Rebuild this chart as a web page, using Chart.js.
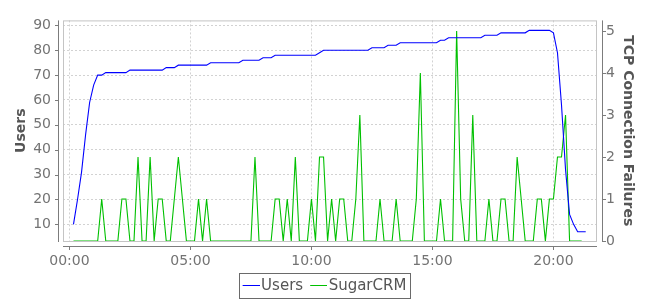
<!DOCTYPE html>
<html>
<head>
<meta charset="utf-8">
<script src="https://cdn.jsdelivr.net/npm/chart.js@4/dist/chart.umd.min.js"></script>
<style>
html,body{margin:0;padding:0;background:#ffffff;}
#wrap{width:650px;height:300px;position:relative;}
</style>
</head>
<body>
<div id="wrap"><canvas id="c" width="650" height="300"></canvas></div>
<script>
// ---- data ----
const sampleTimes = [
  '00:10','00:20','00:30','00:40','00:50',
  '01:00','01:10','01:20','01:30','01:40','01:50',
  '02:00','02:10','02:20','02:30','02:40','02:50',
  '03:00','03:10','03:20','03:30','03:40','03:50',
  '04:00','04:10','04:20','04:30','04:40','04:50',
  '05:00','05:10','05:20','05:30','05:40','05:50',
  '06:00','06:10','06:20','06:30','06:40','06:50',
  '07:00','07:10','07:20','07:30','07:40','07:50',
  '08:00','08:10','08:20','08:30','08:40','08:50',
  '09:00','09:10','09:20','09:30','09:40','09:50',
  '10:00','10:10','10:20','10:30','10:40','10:50',
  '11:00','11:10','11:20','11:30','11:40','11:50',
  '12:00','12:10','12:20','12:30','12:40','12:50',
  '13:00','13:10','13:20','13:30','13:40','13:50',
  '14:00','14:10','14:20','14:30','14:40','14:50',
  '15:00','15:10','15:20','15:30','15:40','15:50',
  '16:00','16:10','16:20','16:30','16:40','16:50',
  '17:00','17:10','17:20','17:30','17:40','17:50',
  '18:00','18:10','18:20','18:30','18:40','18:50',
  '19:00','19:10','19:20','19:30','19:40','19:50',
  '20:00','20:10','20:20','20:30','20:40','20:50',
  '21:00','21:10','21:20'
];

const users = [
  10,20,31,46,59,66,70,70,71,71,
  71,71,71,71,72,72,72,72,72,72,
  72,72,72,73,73,73,74,74,74,74,
  74,74,74,74,75,75,75,75,75,75,
  75,75,76,76,76,76,76,77,77,77,
  78,78,78,78,78,78,78,78,78,78,
  78,79,80,80,80,80,80,80,80,80,
  80,80,80,80,81,81,81,81,82,82,
  82,83,83,83,83,83,83,83,83,83,
  83,84,84,85,85,85,85,85,85,85,
  85,85,86,86,86,86,87,87,87,87,
  87,87,87,88,88,88,88,88,88,87,
  79,58,32,14,10,7,7,7
];

const sugarCRM = [
  0,0,0,0,0,0,0,1,0,0,
  0,0,1,1,0,0,2,0,0,2,
  0,1,1,0,0,1,2,1,0,0,
  0,1,0,1,0,0,0,0,0,0,
  0,0,0,0,0,2,0,0,0,0,
  1,1,0,1,0,2,0,0,0,1,
  0,2,2,0,1,0,1,1,0,0,
  1,3,0,0,0,0,1,0,0,0,
  1,0,0,0,0,1,4,0,0,0,
  0,1,0,0,0,5,1,0,0,3,
  0,0,0,1,0,0,1,1,0,0,
  2,1,0,0,0,1,1,0,1,1,
  2,2,3,0,0,0,0
];

const timeTicks = ['00:00','05:00','10:00','15:00','20:00'];
const usersTicks = [10,20,30,40,50,60,70,80,90];
const failureTicks = [0,1,2,3,4,5];

// ---- helpers ----
function toMinutes(s){ const p = s.split(':'); return (+p[0]) * 60 + (+p[1]); }
function toLabel(m){ const h = Math.floor(m / 60), mm = m % 60; return String(h).padStart(2,'0') + ':' + String(mm).padStart(2,'0'); }
function legendLine(color){
  const cv = document.createElement('canvas');
  cv.width = 22; cv.height = 3;
  const g = cv.getContext('2d');
  g.fillStyle = color;
  g.fillRect(5, 0, 17, 1);
  return cv;
}

const FONT = "'DejaVu Sans', sans-serif";
const tickColor = '#737373';
const titleColor = '#555555';
const gridColor = '#d2d2d2';

const frameAndAxes = {
  id: 'frameAndAxes',
  afterLayout(chart){
    const lg = chart.legend;
    if (lg) { lg.top += 4; lg.bottom += 4; }
  },
  beforeDatasetsDraw(chart){
    const {ctx, chartArea: a, scales} = chart;
    ctx.save();
    ctx.strokeStyle = '#c4c4c4';
    ctx.lineWidth = 1;
    ctx.strokeRect(a.left + 0.5, a.top + 0.5, a.right - a.left - 1, a.bottom - a.top);
    ctx.fillStyle = '#7c7c7c';
    const lx = a.left - 5;
    ctx.fillRect(lx, a.top, 1, a.bottom - a.top + 1);
    scales.y.ticks.forEach(t => {
      const y = Math.round(scales.y.getPixelForValue(t.value));
      ctx.fillRect(lx - 3, y, 3, 1);
    });
    const rx = a.right + 5;
    ctx.fillRect(rx, a.top, 1, a.bottom - a.top + 1);
    scales.y1.ticks.forEach(t => {
      const y = Math.min(Math.round(scales.y1.getPixelForValue(t.value)), a.bottom);
      ctx.fillRect(rx + 1, y, 3, 1);
    });
    const by = a.bottom + 5;
    ctx.fillRect(a.left, by, a.right - a.left, 1);
    scales.x.ticks.forEach(t => {
      const x = Math.round(scales.x.getPixelForValue(t.value));
      ctx.fillRect(x, by + 1, 1, 3);
    });
    ctx.restore();
  },
  afterDraw(chart){
    const lg = chart.legend;
    if (!lg || !lg.lineWidths) return;
    const {ctx} = chart;
    const pad = lg.options.labels.padding;
    const startX = (lg.left + pad + lg.right - lg.lineWidths[0]) / 2;
    const endX = startX + lg.lineWidths[0] - pad;
    const itemTop = lg.top + pad;
    ctx.save();
    ctx.strokeStyle = '#6a6a6a';
    ctx.lineWidth = 1;
    const x0 = Math.round(startX - 4.2), x1 = Math.round(endX + 3.4);
    const y0 = Math.round(itemTop - 5.7);
    ctx.strokeRect(x0 + 0.5, y0 + 0.5, x1 - x0, 25);
    ctx.restore();
  }
};

new Chart(document.getElementById('c'), {
  type: 'line',
  data: {
    datasets: [
      {
        label: 'Users',
        data: users.map((v, i) => ({x: toMinutes(sampleTimes[i]), y: v})),
        yAxisID: 'y',
        borderColor: '#0000ff',
        backgroundColor: '#0000ff',
        borderWidth: 1.1,
        pointRadius: 0,
        pointStyle: legendLine('#0000ff'),
        tension: 0,
        fill: false
      },
      {
        label: 'SugarCRM',
        data: sugarCRM.map((v, i) => ({x: toMinutes(sampleTimes[i]), y: v})),
        yAxisID: 'y1',
        borderColor: '#00c000',
        backgroundColor: '#00c000',
        borderWidth: 1.1,
        pointRadius: 0,
        pointStyle: legendLine('#00c000'),
        tension: 0,
        fill: false
      }
    ]
  },
  options: {
    responsive: false,
    animation: false,
    devicePixelRatio: 1,
    layout: { padding: { top: 9, left: 0, right: 0, bottom: 0 } },
    plugins: {
      legend: {
        position: 'bottom',
        labels: {
          usePointStyle: true,
          pointStyleWidth: 10,
          padding: 8,
          color: '#555555',
          font: { family: FONT, size: 15 }
        }
      },
      tooltip: { enabled: false }
    },
    scales: {
      x: {
        type: 'linear',
        min: -16,
        max: 1308,
        afterBuildTicks: s => { s.ticks = timeTicks.map(t => ({value: toMinutes(t)})); },
        afterFit: s => { s.height = 26; },
        grid: { color: gridColor, drawTicks: false, lineWidth: 1 },
        border: { display: false, dash: [2, 2] },
        ticks: {
          padding: 11.6,
          autoSkip: false,
          maxRotation: 0,
          includeBounds: false,
          color: tickColor,
          font: { family: FONT, size: 14 },
          callback: v => toLabel(v)
        }
      },
      y: {
        type: 'linear',
        position: 'left',
        min: 3.3,
        max: 92,
        afterBuildTicks: s => { s.ticks = usersTicks.map(v => ({value: v})); },
        afterFit: s => { s.width = 63; },
        grid: { color: gridColor, drawTicks: false, lineWidth: 1 },
        border: { display: false, dash: [2, 2] },
        ticks: {
          padding: 12,
          autoSkip: false,
          includeBounds: false,
          color: tickColor,
          font: { family: FONT, size: 14 }
        },
        title: {
          display: true,
          text: 'Users',
          color: titleColor,
          font: { family: FONT, size: 14, weight: 'bold' },
          padding: { top: 13, bottom: 0 }
        }
      },
      y1: {
        type: 'linear',
        position: 'right',
        min: 0,
        max: 5.25,
        afterBuildTicks: s => { s.ticks = failureTicks.map(v => ({value: v})); },
        afterFit: s => { s.width = 53; },
        grid: { drawOnChartArea: false, drawTicks: false },
        border: { display: false },
        ticks: {
          padding: 9,
          autoSkip: false,
          includeBounds: false,
          color: tickColor,
          font: { family: FONT, size: 14 }
        },
        title: {
          display: true,
          text: 'TCP Connection Failures',
          color: titleColor,
          font: { family: FONT, size: 14, weight: 'bold' },
          padding: { top: 13.6, bottom: 0 }
        }
      }
    }
  },
  plugins: [frameAndAxes]
});
</script>
</body>
</html>
